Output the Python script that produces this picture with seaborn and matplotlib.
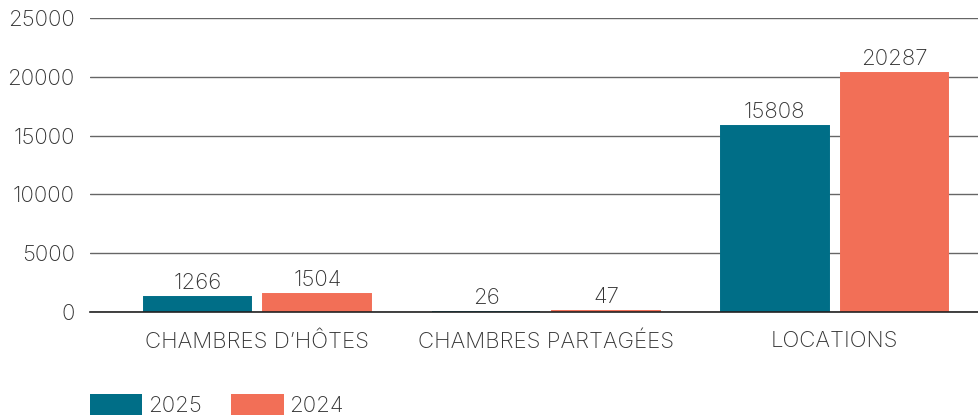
import matplotlib
matplotlib.use("Agg")
import matplotlib.pyplot as plt
import seaborn as sns
import pandas as pd
from matplotlib.patches import Patch

categories = ["CHAMBRES D\u2019H\u00d4TES", "CHAMBRES PARTAG\u00c9ES", "LOCATIONS"]
years = ["2025", "2024"]
values_2025 = [1266, 26, 15808]
values_2024 = [1504, 47, 20287]
yticks = [0, 5000, 10000, 15000, 20000, 25000]

colors = {"2025": "#006e87", "2024": "#f26f57"}

df = pd.DataFrame({
    "cat": categories * 2,
    "year": ["2025"] * 3 + ["2024"] * 3,
    "value": values_2025 + values_2024,
})

sns.set_theme(style="white")
plt.rcParams['font.family'] = ['Inter', 'DejaVu Sans']
plt.rcParams['font.weight'] = 'light'
text_color = "#333333"
fs = 16

W, H = 979, 418
fig = plt.figure(figsize=(W / 100, H / 100), dpi=100)
ax = fig.add_axes([90 / W, (H - 312) / H, (W - 90) / W, (312 - 18) / H])

sns.barplot(data=df, x="cat", y="value", hue="year", hue_order=years,
            palette=colors, width=0.83, gap=0.1, ax=ax, legend=False,
            saturation=1, errorbar=None, linewidth=1.4)
for p in ax.patches:
    p.set_edgecolor(p.get_facecolor())

for cont in ax.containers:
    ax.bar_label(cont, padding=3, fontsize=fs, color=text_color, fontweight='light')

ax.set_ylim(0, 25000)
ax.set_xlim(-0.58, 2.5)
ax.set_yticks(yticks)
ax.set_yticklabels([str(t) for t in yticks])
ax.yaxis.grid(True, color="#666666", linewidth=1)
ax.set_axisbelow(True)
for s in ["top", "right", "left"]:
    ax.spines[s].set_visible(False)
ax.spines["bottom"].set_color("#222222")
ax.spines["bottom"].set_linewidth(1.2)
ax.tick_params(axis="both", length=0, labelsize=fs, colors=text_color)
ax.tick_params(axis="y", pad=11)
ax.tick_params(axis="x", pad=14)
ax.set_xlabel("")
ax.set_ylabel("")

handles = [Patch(facecolor=colors[y], edgecolor="none") for y in years]
fig.legend(handles, years, loc="upper left", bbox_to_anchor=(90 / W, 1 - 394 / H),
           frameon=False, ncol=2, fontsize=fs, handlelength=2.35, handleheight=1.05,
           handletextpad=0.27, columnspacing=1.32, borderpad=0, borderaxespad=0,
           labelcolor=text_color)

fig.savefig("out.png", dpi=100)
